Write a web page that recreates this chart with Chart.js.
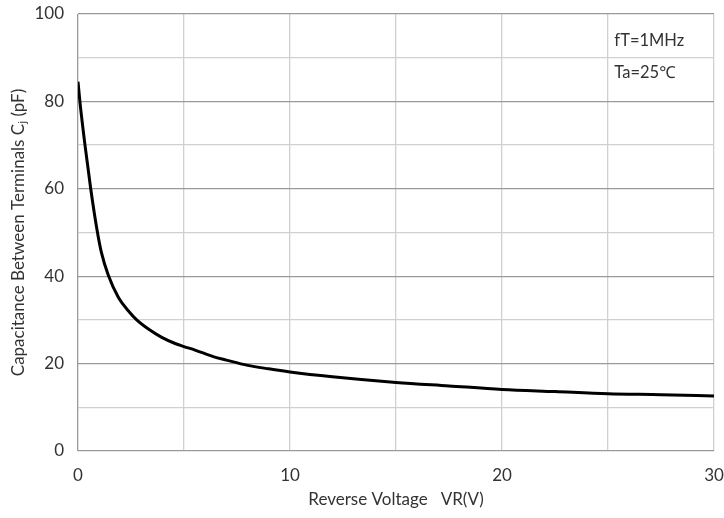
<!DOCTYPE html>
<html>
<head>
<meta charset="utf-8">
<script src="https://cdn.jsdelivr.net/npm/chart.js@4/dist/chart.umd.min.js"></script>
<style>
  html, body { margin: 0; padding: 0; background: #fff; }
  #wrap { width: 724px; height: 518px; position: relative; }
</style>
</head>
<body>
<div id="wrap"><canvas id="c"></canvas></div>
<script>
const voltage = [0, 0.1, 0.33, 0.6, 0.9, 1.1, 1.43, 1.9, 2.37, 2.77, 3.32, 3.95, 4.58, 5, 5.52, 6.38, 7, 8, 9, 10, 12, 15, 17.5, 20, 22.5, 25, 27.5, 30];
const capacitance = [84.5, 79.5, 70, 60, 50.5, 45.5, 40.2, 35.2, 32.1, 30, 27.9, 26, 24.6, 23.9, 23.1, 21.6, 20.8, 19.6, 18.8, 18.1, 17, 15.7, 14.9, 14.1, 13.6, 13.1, 12.9, 12.6];
const xLabelTicks = [0, 10, 20, 30];
const yLabelTicks = [0, 20, 40, 60, 80, 100];
const notes = ['fT=1MHz', 'Ta=25\u2103'];

const FONT = "Lato, 'Open Sans', 'Noto Sans', sans-serif";
const TXT = '#333333';

function noOverflow(s) {
  s.paddingTop = 0; s.paddingBottom = 0; s.paddingLeft = 0; s.paddingRight = 0;
}

const notePlugin = {
  id: 'notes',
  afterDraw(chart) {
    const ctx = chart.ctx;
    const xs = chart.scales.x, ys = chart.scales.y;
    ctx.save();
    ctx.fillStyle = TXT;
    ctx.font = "16.5px " + FONT;
    ctx.textAlign = 'left';
    ctx.textBaseline = 'middle';
    ctx.fillText(notes[0], xs.getPixelForValue(25.3), ys.getPixelForValue(94));
    ctx.fillText(notes[1], xs.getPixelForValue(25.3), ys.getPixelForValue(86.6));
    ctx.restore();
  }
};

new Chart(document.getElementById('c'), {
  type: 'line',
  data: {
    datasets: [{
      data: voltage.map((v, i) => ({ x: v, y: capacitance[i] })),
      borderColor: '#000',
      borderWidth: 3,
      pointRadius: 0,
      fill: false,
      cubicInterpolationMode: 'monotone'
    }]
  },
  options: {
    responsive: true,
    maintainAspectRatio: false,
    animation: false,
    layout: { padding: { top: 14, right: 10, left: 0, bottom: 0 } },
    plugins: { legend: { display: false }, tooltip: { enabled: false } },
    scales: {
      x: {
        type: 'linear',
        min: 0, max: 30,
        afterFit(s) { s.height = 67; noOverflow(s); },
        ticks: {
          stepSize: 5,
          autoSkip: false,
          maxRotation: 0,
          padding: 14,
          color: TXT,
          font: { size: 17, family: FONT },
          callback: v => xLabelTicks.includes(v) ? String(v) : ''
        },
        grid: {
          color: ctx => ctx.tick && ctx.tick.value === 0 ? '#9a9a9a' : '#d0d0d0',
          lineWidth: 1.3,
          drawTicks: false
        },
        border: { display: false },
        title: {
          display: true,
          text: 'Reverse Voltage   VR(V)',
          color: TXT,
          font: { size: 17, family: FONT },
          padding: { top: 4, bottom: 8 }
        }
      },
      y: {
        min: 0, max: 100,
        afterFit(s) { s.width = 78; noOverflow(s); },
        ticks: {
          stepSize: 10,
          autoSkip: false,
          padding: 14,
          color: TXT,
          font: { size: 17, family: FONT },
          callback: v => yLabelTicks.includes(v) ? String(v) : ''
        },
        grid: {
          color: ctx => ctx.tick && ctx.tick.value % 20 === 0 ? '#9a9a9a' : '#d0d0d0',
          lineWidth: 1.3,
          drawTicks: false
        },
        border: { display: false },
        title: {
          display: true,
          text: 'Capacitance Between Terminals C\u2c7c (pF)',
          color: TXT,
          font: { size: 17, family: FONT },
          padding: { top: 8, bottom: 0 }
        }
      }
    }
  },
  plugins: [notePlugin]
});
</script>
</body>
</html>
